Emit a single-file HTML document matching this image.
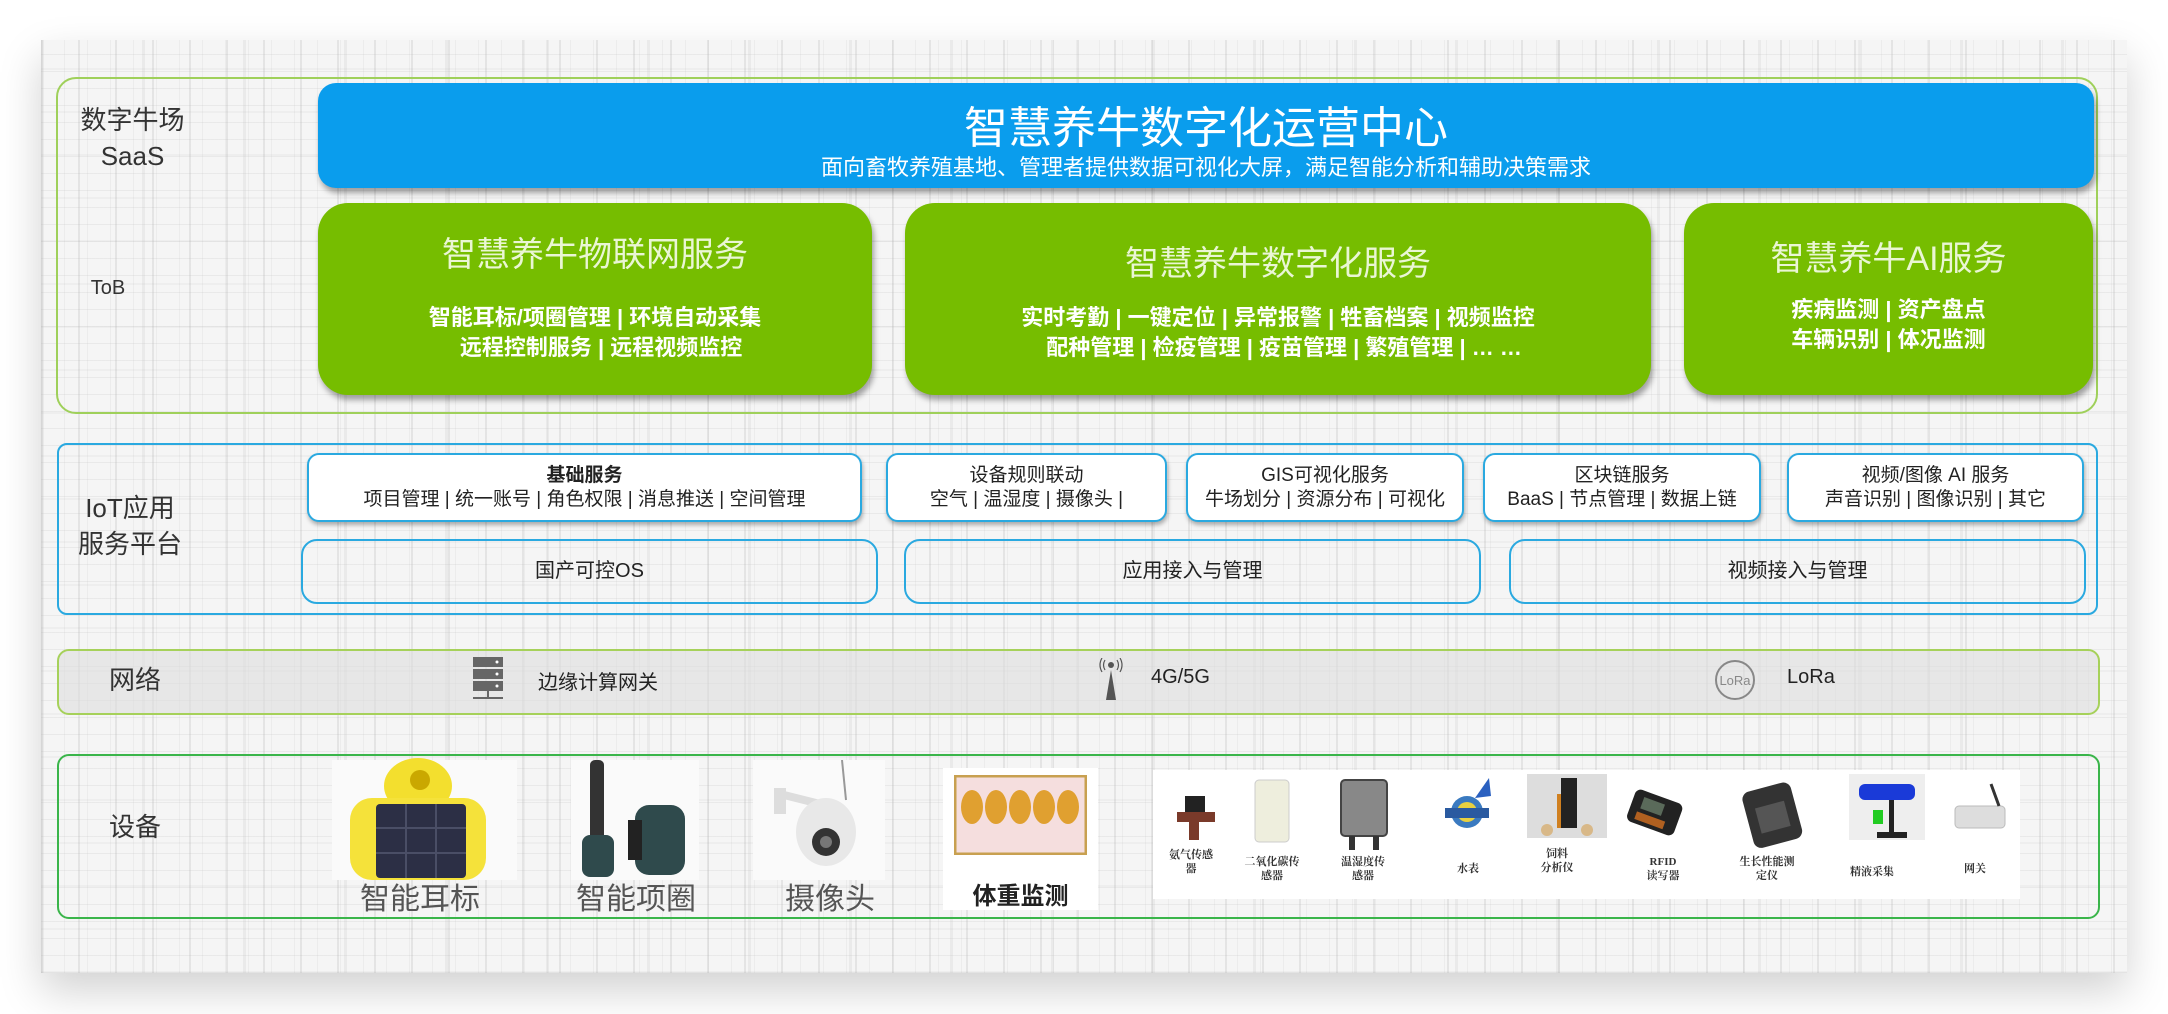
<!DOCTYPE html>
<html><head><meta charset="utf-8">
<style>
*{margin:0;padding:0;box-sizing:border-box}
body{width:2168px;height:1014px;background:#fff;position:relative;overflow:hidden;font-family:"Liberation Sans","Noto Sans CJK SC",sans-serif}
.abs{position:absolute}
#card{left:41px;top:40px;width:2086px;height:933px;background-color:#f5f5f5;
box-shadow:0 18px 40px rgba(0,0,0,.18);
background-image:
repeating-linear-gradient(90deg,rgba(170,170,170,.22) 0 2px,transparent 2px 37px),
repeating-linear-gradient(90deg,rgba(180,180,180,.14) 0 1px,transparent 1px 23px),
repeating-linear-gradient(90deg,rgba(190,190,190,.2) 0 3px,transparent 3px 101px),
repeating-linear-gradient(0deg,rgba(180,180,180,.18) 0 1px,transparent 1px 17px),
repeating-linear-gradient(0deg,rgba(195,195,195,.15) 0 2px,transparent 2px 43px);}
.lbl{position:absolute;color:#333;font-size:26px;text-align:center;line-height:1.4}
.ttl{position:absolute;color:#fff;text-align:center}
.gbox{position:absolute;background:#76bd00;border-radius:30px;box-shadow:2px 5px 6px rgba(0,0,0,.35);color:#fff;text-align:center}
.gbox .t{font-size:34px;color:#eaf6d4;position:absolute;left:0;right:0}
.gbox .s{font-size:22px;font-weight:bold;line-height:30px;position:absolute;left:0;right:0}
.wbox{position:absolute;background:#fff;border:2px solid #2aa9e0;border-radius:12px;box-shadow:1px 3px 4px rgba(0,0,0,.3);text-align:center;color:#222;font-size:19px;line-height:24px;padding-top:9px}
.obox{position:absolute;border:2px solid #2aa9e0;border-radius:16px;text-align:center;color:#222;font-size:20px;line-height:61px}
.net{font-size:20px;color:#222;position:absolute;top:666px}
.dl{position:absolute;font-size:30px;color:#555;text-align:center}
.sl{position:absolute;font-family:"Liberation Serif","Noto Serif CJK SC",serif;font-weight:bold;font-size:11px;color:#333;text-align:center;line-height:14px;width:80px}
</style></head><body>
<div id="card" class="abs"></div>

<div class="abs" style="left:56px;top:77px;width:2042px;height:337px;border:2px solid #9fd05a;border-radius:20px"></div>
<div class="lbl" style="left:70px;top:102px;width:125px">数字牛场<br>SaaS</div>
<div class="lbl" style="left:80px;top:274px;width:56px;font-size:20px">ToB</div>
<div class="abs" style="left:318px;top:83px;width:1776px;height:105px;background:#0a9ded;border-radius:18px;box-shadow:2px 5px 6px rgba(0,0,0,.35)"></div>
<div class="ttl" style="left:318px;width:1776px;top:92px;font-size:44px">智慧养牛数字化运营中心</div>
<div class="ttl" style="left:318px;width:1776px;top:150px;font-size:22px">面向畜牧养殖基地、管理者提供数据可视化大屏，满足智能分析和辅助决策需求</div>

<div class="gbox" style="left:318px;top:203px;width:554px;height:192px">
<div class="t" style="top:24px">智慧养牛物联网服务</div>
<div class="s" style="top:100px">智能耳标/项圈管理 | 环境自动采集<br>&nbsp;&nbsp;远程控制服务 | 远程视频监控</div></div>
<div class="gbox" style="left:905px;top:203px;width:746px;height:192px">
<div class="t" style="top:33px">智慧养牛数字化服务</div>
<div class="s" style="top:100px">实时考勤 | 一键定位 | 异常报警 | 牲畜档案 | 视频监控<br>&nbsp;&nbsp;配种管理 | 检疫管理 | 疫苗管理 | 繁殖管理 | … …</div></div>
<div class="gbox" style="left:1684px;top:203px;width:409px;height:192px">
<div class="t" style="top:28px">智慧养牛AI服务</div>
<div class="s" style="top:92px">疾病监测 | 资产盘点<br>车辆识别 | 体况监测</div></div>

<div class="abs" style="left:57px;top:443px;width:2041px;height:172px;border:2px solid #2aa9e0;border-radius:10px"></div>
<div class="lbl" style="left:70px;top:490px;width:120px">IoT应用<br>服务平台</div>
<div class="wbox" style="left:307px;top:453px;width:555px;height:69px"><b>基础服务</b><br>项目管理 | 统一账号 | 角色权限 | 消息推送 | 空间管理</div>
<div class="wbox" style="left:886px;top:453px;width:281px;height:69px">设备规则联动<br>空气 | 温湿度 | 摄像头 |</div>
<div class="wbox" style="left:1186px;top:453px;width:278px;height:69px">GIS可视化服务<br>牛场划分 | 资源分布 | 可视化</div>
<div class="wbox" style="left:1483px;top:453px;width:278px;height:69px">区块链服务<br>BaaS | 节点管理 | 数据上链</div>
<div class="wbox" style="left:1787px;top:453px;width:297px;height:69px">视频/图像 AI 服务<br>声音识别 | 图像识别 | 其它</div>
<div class="obox" style="left:301px;top:539px;width:577px;height:65px">国产可控OS</div>
<div class="obox" style="left:904px;top:539px;width:577px;height:65px">应用接入与管理</div>
<div class="obox" style="left:1509px;top:539px;width:577px;height:65px">视频接入与管理</div>

<div class="abs" style="left:57px;top:649px;width:2043px;height:66px;border:2px solid #a6d15a;border-radius:12px;background:rgba(222,222,222,.6)"></div>
<div class="lbl" style="left:95px;top:662px;width:80px">网络</div>
<svg class="abs" style="left:470px;top:655px" width="36" height="48" viewBox="0 0 36 48">
<rect x="3" y="2" width="30" height="10" fill="#666"/><rect x="3" y="14" width="30" height="10" fill="#666"/><rect x="3" y="26" width="30" height="10" fill="#666"/>
<circle cx="27" cy="7" r="1.5" fill="#fff"/><circle cx="27" cy="19" r="1.5" fill="#fff"/><circle cx="27" cy="31" r="1.5" fill="#fff"/>
<rect x="17" y="36" width="2" height="8" fill="#666"/><rect x="3" y="42" width="30" height="2" fill="#666"/></svg>
<div class="net" style="left:538px">边缘计算网关</div>
<svg class="abs" style="left:1097px;top:658px" width="28" height="44" viewBox="0 0 28 44">
<circle cx="14" cy="7" r="3" fill="#555"/><path d="M8 2 Q5 7 8 12 M20 2 Q23 7 20 12 M5 0 Q1 7 5 14 M23 0 Q27 7 23 14" stroke="#555" fill="none" stroke-width="1.2"/>
<polygon points="14,12 9,42 19,42" fill="#555"/></svg>
<div class="net" style="left:1151px">4G/5G</div>
<svg class="abs" style="left:1714px;top:659px" width="42" height="42" viewBox="0 0 42 42">
<circle cx="21" cy="21" r="19" stroke="#888" stroke-width="2" fill="none"/>
<text x="21" y="26" font-size="13" text-anchor="middle" fill="#888" font-family="Liberation Sans">LoRa</text></svg>
<div class="net" style="left:1787px">LoRa</div>

<div class="abs" style="left:57px;top:754px;width:2043px;height:165px;border:2px solid #3ab54a;border-radius:12px"></div>
<div class="lbl" style="left:95px;top:809px;width:80px;font-size:26px">设备</div>
<div class="abs" style="left:332px;top:760px;width:185px;height:120px;background:#fafafa"></div>
<svg class="abs" style="left:340px;top:758px" width="160" height="122" viewBox="0 0 160 122">
<ellipse cx="78" cy="28" rx="34" ry="28" fill="#f3df2e"/><circle cx="80" cy="22" r="10" fill="#caa800"/>
<rect x="10" y="40" width="136" height="82" rx="22" fill="#f5e23a"/><rect x="36" y="46" width="90" height="74" rx="4" fill="#2c2f45"/>
<path d="M66 46V120M96 46V120M36 70H126M36 95H126" stroke="#4a4e66" stroke-width="2"/></svg>
<div class="dl" style="left:340px;width:160px;top:874px">智能耳标</div>
<div class="abs" style="left:571px;top:760px;width:128px;height:120px;background:#fafafa"></div>
<svg class="abs" style="left:580px;top:760px" width="120" height="118" viewBox="0 0 120 118">
<rect x="10" y="0" width="14" height="80" rx="5" fill="#333"/><rect x="2" y="75" width="32" height="42" rx="8" fill="#2f4a4c"/>
<rect x="55" y="45" width="50" height="70" rx="14" fill="#2f4a4c"/><rect x="48" y="60" width="14" height="40" fill="#222"/></svg>
<div class="dl" style="left:566px;width:140px;top:874px">智能项圈</div>
<div class="abs" style="left:753px;top:760px;width:132px;height:120px;background:#fafafa"></div>
<svg class="abs" style="left:770px;top:760px" width="100" height="112" viewBox="0 0 100 112">
<path d="M72 0 L76 40" stroke="#999" stroke-width="2"/><rect x="4" y="28" width="12" height="26" fill="#ddd"/><path d="M10 34 L50 44" stroke="#ddd" stroke-width="8"/>
<ellipse cx="56" cy="72" rx="30" ry="34" fill="#e8e8e8"/><circle cx="56" cy="82" r="14" fill="#333"/><circle cx="56" cy="82" r="6" fill="#777"/></svg>
<div class="dl" style="left:760px;width:140px;top:874px">摄像头</div>
<div class="abs" style="left:943px;top:768px;width:155px;height:142px;background:#fff"></div>
<svg class="abs" style="left:954px;top:775px" width="133" height="80" viewBox="0 0 133 80">
<rect x="1" y="1" width="131" height="78" fill="#f5dede" stroke="#c8a050" stroke-width="3"/>
<g fill="#e0a030"><ellipse cx="18" cy="32" rx="11" ry="17"/><ellipse cx="42" cy="32" rx="11" ry="17"/><ellipse cx="66" cy="32" rx="11" ry="17"/><ellipse cx="90" cy="32" rx="11" ry="17"/><ellipse cx="114" cy="32" rx="11" ry="17"/></g></svg>
<div class="abs" style="left:943px;top:876px;width:155px;text-align:center;font-size:24px;font-weight:bold;color:#222">体重监测</div>

<div class="abs" style="left:1153px;top:770px;width:867px;height:129px;background:#fff"></div>
<svg class="abs" style="left:1153px;top:770px" width="867" height="90" viewBox="0 0 867 90">
<g transform="translate(24,18)"><rect x="8" y="8" width="20" height="16" fill="#222"/><rect x="0" y="24" width="38" height="10" fill="#7a3a2a"/><rect x="12" y="30" width="10" height="22" fill="#7a3a2a"/></g>
<g transform="translate(102,10)"><rect x="0" y="0" width="34" height="62" rx="4" fill="#eeeedd" stroke="#ccc"/></g>
<g transform="translate(188,10)"><rect x="0" y="0" width="46" height="56" rx="4" fill="#888" stroke="#444" stroke-width="2"/><rect x="8" y="56" width="6" height="14" fill="#333"/><rect x="32" y="56" width="6" height="14" fill="#333"/></g>
<g transform="translate(292,8)"><circle cx="22" cy="34" r="16" fill="#3a7ac0"/><circle cx="22" cy="34" r="10" fill="#e8d040"/><rect x="0" y="30" width="44" height="10" fill="#2a5aa0"/><path d="M30 20 L44 0 L46 18Z" fill="#2a60c0"/></g>
<g transform="translate(374,4)"><rect x="0" y="0" width="80" height="64" fill="#ddd"/><rect x="34" y="4" width="16" height="50" fill="#222"/><rect x="30" y="20" width="4" height="34" fill="#d08020"/><circle cx="20" cy="56" r="6" fill="#d8b888"/><circle cx="60" cy="56" r="6" fill="#d8b888"/></g>
<g transform="translate(484,18) rotate(20)"><rect x="0" y="0" width="50" height="34" rx="6" fill="#222"/><rect x="10" y="6" width="22" height="12" fill="#5a6a5a"/><rect x="8" y="22" width="30" height="8" fill="#b06020"/></g>
<g transform="translate(590,8)"><rect x="4" y="8" width="50" height="58" rx="8" fill="#333" transform="rotate(-15 30 36)"/><rect x="14" y="26" width="30" height="26" fill="#555" transform="rotate(-15 30 36)"/></g>
<g transform="translate(696,4)"><rect x="0" y="0" width="76" height="66" fill="#eee"/><rect x="10" y="10" width="56" height="16" rx="6" fill="#1a3ad8"/><rect x="40" y="26" width="5" height="36" fill="#222"/><rect x="28" y="58" width="30" height="6" fill="#222"/><rect x="24" y="36" width="10" height="14" fill="#2c2"/></g>
<g transform="translate(802,20)"><rect x="0" y="16" width="50" height="22" rx="4" fill="#ddd" stroke="#bbb"/><path d="M44 16 L36 -6" stroke="#333" stroke-width="3"/></g>
</svg>
<div class="sl" style="left:1151px;top:848px">氨气传感<br>器</div>
<div class="sl" style="left:1232px;top:855px">二氧化碳传<br>感器</div>
<div class="sl" style="left:1323px;top:855px">温湿度传<br>感器</div>
<div class="sl" style="left:1428px;top:862px">水表</div>
<div class="sl" style="left:1517px;top:847px">饲料<br>分析仪</div>
<div class="sl" style="left:1623px;top:855px">RFID<br>读写器</div>
<div class="sl" style="left:1727px;top:855px">生长性能测<br>定仪</div>
<div class="sl" style="left:1832px;top:865px">精液采集</div>
<div class="sl" style="left:1935px;top:862px">网关</div>
</body></html>
